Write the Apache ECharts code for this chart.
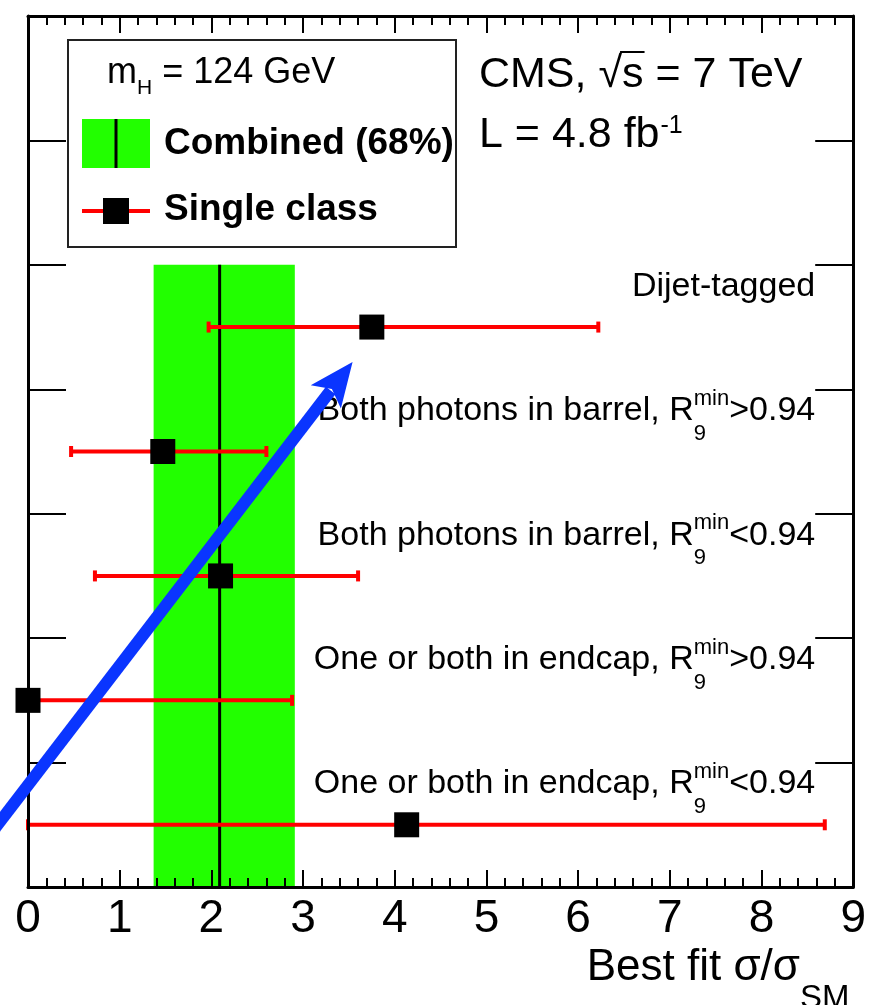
<!DOCTYPE html>
<html>
<head>
<meta charset="utf-8">
<script src="https://cdn.jsdelivr.net/npm/echarts@6/dist/echarts.min.js"></script>
<style>
  html, body { margin: 0; padding: 0; background: #ffffff; }
  #chart { width: 869px; height: 1005px; }
</style>
</head>
<body>
<div id="chart"></div>
<script>
// ---- data ----------------------------------------------------------------
// One row per diphoton event class (top to bottom), best-fit signal strength
const classNames = ['Dijet-tagged', 'Both photons in barrel, R', 'Both photons in barrel, R',
                    'One or both in endcap, R', 'One or both in endcap, R'];
const r9Cuts     = ['', '>0.94', '<0.94', '>0.94', '<0.94'];
const rowPos     = [4.5, 3.5, 2.5, 1.5, 0.5];
const bestFit    = [3.75, 1.47, 2.10, 0.00, 4.13];
const errLow     = [1.97, 0.47, 0.73, 0.00, 0.00];
const errHigh    = [6.22, 2.60, 3.60, 2.88, 8.69];

// Combined fit: 68% interval and central value, drawn over rows 0..5
const combinedInterval = [1.37, 2.91];
const combinedBest     = 2.09;
const combinedRows     = [0, 5];

// Axis ranges and tick labels
const xRange      = [0, 9];
const yRange      = [0, 7];
const xTickLabels = ['0', '1', '2', '3', '4', '5', '6', '7', '8', '9'];

// Highlight arrow (tail -> head), in axis units
const arrowTail = [-0.52, 0.32];
const arrowHead = [3.54, 4.22];

// ---- helpers ---------------------------------------------------------------
const FONT = '"Liberation Sans", Arial, Helvetica, sans-serif';
const MID = 0.345;              // canvas 'middle' sits this far (in em) above the baseline
const measureCtx = document.createElement('canvas').getContext('2d');
function textWidth(t, size, weight) {
  measureCtx.font = (weight || 'normal') + ' ' + size + 'px "Liberation Sans"';
  return measureCtx.measureText(t).width;
}
// text element placed by its alphabetic baseline
function txt(t, x, baseline, size, weight, align, z) {
  const a = align || 'left';
  return {
    type: 'text', z: z || 0,
    style: {
      text: t, x: x, y: baseline - MID * size,
      fontSize: size, fontFamily: FONT, fontWeight: weight || 'normal',
      fill: '#000000', align: a, textAlign: a,
      verticalAlign: 'middle', textVerticalAlign: 'middle'
    }
  };
}

const chart = echarts.init(document.getElementById('chart'), null, { renderer: 'canvas' });

const axisLine = { show: true, onZero: false, lineStyle: { color: '#000', width: 3 } };
const tickStyle = { color: '#000', width: 2 };

function xAxisDef(pos, withLabels) {
  return {
    type: 'value', position: pos, min: xRange[0], max: xRange[1], interval: 1, z: 6,
    axisLine: axisLine,
    axisTick: { show: true, inside: true, length: 17, lineStyle: tickStyle },
    minorTick: { show: true, splitNumber: 5, length: 9, lineStyle: tickStyle },
    splitLine: { show: false }, minorSplitLine: { show: false },
    axisLabel: withLabels ? {
      show: true, fontSize: 46, fontFamily: FONT, color: '#000', margin: 9,
      formatter: function (v) { return xTickLabels[Math.round(v)]; }
    } : { show: false }
  };
}
function yAxisDef(pos) {
  return {
    type: 'value', position: pos, min: yRange[0], max: yRange[1], interval: 1, z: 6,
    axisLine: axisLine,
    axisTick: { show: true, inside: true, length: 38, lineStyle: tickStyle },
    splitLine: { show: false },
    axisLabel: { show: false }
  };
}

// Combined 68% band with its central line
const bandSeries = {
  type: 'custom', z: 1, clip: false,
  data: [[combinedInterval[0], combinedInterval[1], combinedBest, combinedRows[0], combinedRows[1]]],
  renderItem: function (params, api) {
    const p0 = api.coord([api.value(0), api.value(4)]);
    const p1 = api.coord([api.value(1), api.value(3)]);
    const c0 = api.coord([api.value(2), api.value(3)]);
    const c1 = api.coord([api.value(2), api.value(4)]);
    return {
      type: 'group', children: [
        { type: 'rect', shape: { x: p0[0], y: p0[1], width: p1[0] - p0[0], height: p1[1] - p0[1] },
          style: { fill: '#22ff00' } },
        { type: 'line', shape: { x1: c0[0], y1: c0[1], x2: c1[0], y2: c1[1] },
          style: { stroke: '#000', lineWidth: 3 } }
      ]
    };
  }
};

// Horizontal error bars with end caps
const errorSeries = {
  type: 'custom', z: 3, clip: false,
  data: rowPos.map(function (r, i) { return [errLow[i], errHigh[i], r]; }),
  renderItem: function (params, api) {
    const a = api.coord([api.value(0), api.value(2)]);
    const b = api.coord([api.value(1), api.value(2)]);
    const capH = 11, capW = 4;
    return {
      type: 'group', children: [
        { type: 'line', shape: { x1: a[0], y1: a[1], x2: b[0], y2: b[1] },
          style: { stroke: '#ff0000', lineWidth: 4 } },
        { type: 'rect', shape: { x: a[0] - capW / 2, y: a[1] - capH / 2, width: capW, height: capH },
          style: { fill: '#ff0000' } },
        { type: 'rect', shape: { x: b[0] - capW / 2, y: b[1] - capH / 2, width: capW, height: capH },
          style: { fill: '#ff0000' } }
      ]
    };
  }
};

// Best-fit markers
const pointSeries = {
  type: 'scatter', z: 4, clip: false,
  symbol: 'rect', symbolSize: 25,
  itemStyle: { color: '#000', opacity: 1 },
  data: rowPos.map(function (r, i) { return [bestFit[i], r]; }),
  emphasis: { disabled: true }
};

// Class names, right-aligned above each row, with R9^min sub/superscripts
const labelSeries = {
  type: 'custom', z: 5, clip: false,
  data: rowPos.map(function (r, i) { return [i, r]; }),
  renderItem: function (params, api) {
    const i = api.value(0);
    const rowPx = api.coord([xRange[1], api.value(1)]);
    const right = rowPx[0] - 38;
    const base = rowPx[1] - 29;
    const S = 34, s = 22;
    const main = classNames[i], cut = r9Cuts[i];
    if (!cut) {
      return { type: 'group', children: [txt(main, right, base, S, 'normal', 'right')] };
    }
    const wCut = textWidth(cut, S);
    const wSup = Math.max(textWidth('min', s), textWidth('9', s));
    const xCut = right - wCut;
    const xSup = xCut - wSup;
    return {
      type: 'group', children: [
        txt(main, xSup, base, S, 'normal', 'right'),
        txt('min', xSup, base - 16, s, 'normal', 'left'),
        txt('9', xSup, base + 19, s, 'normal', 'left'),
        txt(cut, xCut, base, S, 'normal', 'left')
      ]
    };
  }
};

// Highlight arrow: thick shaft and a notched triangular head
const arrowSeries = {
  type: 'custom', z: 20, zlevel: 1, clip: false,
  data: [[arrowTail[0], arrowTail[1], arrowHead[0], arrowHead[1]]],
  renderItem: function (params, api) {
    const t = api.coord([api.value(0), api.value(1)]);
    const h = api.coord([api.value(2), api.value(3)]);
    const dx = h[0] - t[0], dy = h[1] - t[1];
    const L = Math.sqrt(dx * dx + dy * dy);
    const ux = dx / L, uy = dy / L, nx = -uy, ny = ux;
    const headLen = 44, halfW = 19, notch = 34;
    const b = function (back, side) { return [h[0] - ux * back + nx * side, h[1] - uy * back + ny * side]; };
    const shaftEnd = b(notch + 2, 0);
    return {
      type: 'group', children: [
        { type: 'line', shape: { x1: t[0], y1: t[1], x2: shaftEnd[0], y2: shaftEnd[1] },
          style: { stroke: '#0a35ff', lineWidth: 12 } },
        { type: 'polygon', shape: { points: [h, b(headLen, halfW), b(notch, 0), b(headLen, -halfW)] },
          style: { fill: '#0a35ff' } }
      ]
    };
  }
};

// ---- static annotations: legend box, experiment label, axis title -----------
const cmsParts = (function () {
  const size = 43, base = 90;
  let x = 479;
  const out = [];
  const seg = function (t) { out.push(txt(t, x, base, size)); const w = textWidth(t, size); x += w; return w; };
  seg('CMS, ');
  seg('\u221A');
  const sx = x;
  const ws = seg('s');
  out.push({ type: 'line', shape: { x1: sx - 2, y1: base - 38, x2: sx + ws + 1, y2: base - 38 },
             style: { stroke: '#000', lineWidth: 2 } });
  seg(' = 7 TeV');
  return out;
})();

const lumiParts = (function () {
  const size = 43, base = 150, x0 = 479;
  const w = textWidth('L = 4.8 fb', size);
  return [txt('L = 4.8 fb', x0, base, size), txt('-1', x0 + w + 1, base - 15, 25)];
})();

const massParts = (function () {
  const size = 36, base = 85, x0 = 107;
  const wm = textWidth('m', size);
  const wh = textWidth('H', 21);
  return [txt('m', x0, base, size), txt('H', x0 + wm, base + 10, 21), txt(' = 124 GeV', x0 + wm + wh, base, size)];
})();

const titleParts = (function () {
  const size = 44, base = 983, right = 800;
  return [txt('Best fit \u03C3/\u03C3', right, base, size, 'normal', 'right'), txt('SM', right, base + 27, 33)];
})();

const legendParts = [
  { type: 'rect', shape: { x: 68, y: 40, width: 388, height: 207 },
    style: { fill: '#ffffff', stroke: '#222', lineWidth: 2 } },
  { type: 'rect', shape: { x: 82, y: 119, width: 68, height: 49 }, style: { fill: '#22ff00' } },
  { type: 'line', shape: { x1: 116, y1: 119, x2: 116, y2: 168 }, style: { stroke: '#000', lineWidth: 3 } },
  { type: 'line', shape: { x1: 82, y1: 211, x2: 150, y2: 211 }, style: { stroke: '#ff0000', lineWidth: 4 } },
  { type: 'rect', shape: { x: 103, y: 198, width: 26, height: 26 }, style: { fill: '#000' } },
  txt('Combined (68%)', 164, 157, 37, 'bold'),
  txt('Single class', 164, 223, 37, 'bold')
].concat(massParts);

chart.setOption({
  animation: false,
  backgroundColor: '#ffffff',
  grid: { left: 28, right: 13, top: 16, bottom: 118, containLabel: false },
  xAxis: [xAxisDef('bottom', true), xAxisDef('top', false)],
  yAxis: [yAxisDef('left'), yAxisDef('right')],
  series: [bandSeries, errorSeries, pointSeries, labelSeries, arrowSeries],
  graphic: { elements: legendParts.concat(cmsParts, lumiParts, titleParts) }
});
</script>
</body>
</html>
